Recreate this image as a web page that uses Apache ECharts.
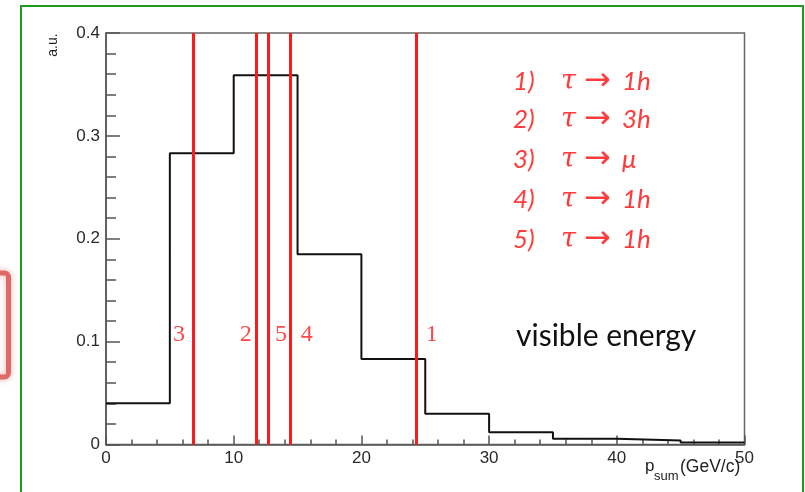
<!DOCTYPE html>
<html>
<head>
<meta charset="utf-8">
<script src="https://cdn.jsdelivr.net/npm/echarts@6/dist/echarts.min.js"></script>
<style>html,body{margin:0;padding:0;background:#fff;}#c{width:805px;height:492px;}</style>
</head>
<body>
<div id="c"></div>
<script>
// Histogram bins (GeV/c) and normalized contents (a.u.)
var binEdges = [0, 5, 10, 15, 20, 25, 30, 35, 40, 45, 50];
var binValues = [0.040, 0.283, 0.359, 0.185, 0.083, 0.030, 0.012, 0.0055, 0.004, 0.002];
// Decay-mode markers: visible energy per decay
var decayIds = ['1', '2', '3', '4', '5'];
var decayEnergy = [24.33, 11.75, 6.84, 14.46, 12.74];
var decayLabelX = [25.5, 10.95, 5.71, 15.73, 13.7];
var decayLabelY = 0.107;
// Legend text
var legendNum = ['1)', '2)', '3)', '4)', '5)'];
var legendFinal = ['1h', '3h', 'μ', '1h', '1h'];
var xTicks = [0, 10, 20, 30, 40, 50];
var yTicks = [0, 0.1, 0.2, 0.3, 0.4];

var histData = [];
for (var i = 0; i < binValues.length; i++) histData.push([binEdges[i], binValues[i]]);
histData.push([binEdges[binEdges.length - 1], binValues[binValues.length - 1]]);

var chart = echarts.init(document.getElementById('c'));
var red = '#ff1a1a';
var txtRed = '#ff3b3b';

var graphics = [
  { type: 'rect', shape: { x: 21, y: 6, width: 782, height: 520 }, style: { fill: 'none', stroke: '#1f9a1f', lineWidth: 2 }, z: 10 },
  { type: 'rect', shape: { x: -20, y: 273, width: 28.5, height: 104, r: 4 }, style: { fill: 'none', stroke: '#e06868', lineWidth: 5, shadowBlur: 6, shadowColor: 'rgba(224,104,104,0.5)' }, z: 10 },
  { type: 'text', x: 516, y: 336, style: { text: 'visible energy', font: '30px Lato', fill: '#111', textVerticalAlign: 'middle' }, z: 10 },
  { type: 'text', x: 53, y: 45, rotation: Math.PI / 2, style: { text: 'a.u.', font: '14px "Liberation Sans"', fill: '#222', textAlign: 'center', textVerticalAlign: 'middle' }, z: 10 },
  { type: 'text', x: 645, y: 466, style: { text: 'p', font: '17px "Liberation Sans"', fill: '#222', textVerticalAlign: 'middle' }, z: 10 },
  { type: 'text', x: 654, y: 476, style: { text: 'sum', font: '13px "Liberation Sans"', fill: '#222', textVerticalAlign: 'middle' }, z: 10 },
  { type: 'text', x: 680, y: 467, style: { text: '(GeV/c)', font: '17.5px "Liberation Sans"', fill: '#222', textVerticalAlign: 'middle' }, z: 10 }
];
var rowY = [82, 120, 160, 200, 240];
for (var k = 0; k < legendNum.length; k++) {
  graphics.push({ type: 'text', x: 513, y: rowY[k], style: { text: legendNum[k], font: 'italic 26px Lato', fill: txtRed, textVerticalAlign: 'middle' }, z: 10 });
  graphics.push({ type: 'text', x: 561, y: rowY[k], style: { text: 'τ', font: 'italic 27px "DejaVu Serif"', fill: txtRed, textVerticalAlign: 'middle' }, z: 10 });
  graphics.push({ type: 'text', x: 584, y: rowY[k], style: { text: '→', font: '32px "DejaVu Sans"', fill: txtRed, textVerticalAlign: 'middle' }, z: 10 });
  graphics.push({ type: 'text', x: 622, y: rowY[k], style: { text: legendFinal[k], font: 'italic 26px Lato', fill: txtRed, textVerticalAlign: 'middle' }, z: 10 });
}

var markData = decayEnergy.map(function (v) { return { xAxis: v }; });
var labelData = decayIds.map(function (id, j) { return [decayLabelX[j], decayLabelY, id]; });

chart.setOption({
  animation: false,
  backgroundColor: '#fff',
  grid: { left: 106, right: 60.5, top: 33, bottom: 47.5, show: true, borderColor: '#666', borderWidth: 1.5, backgroundColor: 'transparent' },
  xAxis: {
    type: 'value', min: 0, max: 50, interval: 10,
    axisLine: { show: true, lineStyle: { color: '#555', width: 1.5 } },
    axisTick: { show: true, inside: true, length: 9, lineStyle: { color: '#555', width: 1.5 } },
    minorTick: { show: true, splitNumber: 5, length: 5, lineStyle: { color: '#555', width: 1.5 } },
    axisLabel: { fontFamily: 'Liberation Sans', fontSize: 17, color: '#2a2a2a', margin: 5, showMaxLabel: true, showMinLabel: true,
      formatter: function (v) { return xTicks.indexOf(v) >= 0 ? String(v) : ''; } },
    splitLine: { show: false }
  },
  yAxis: {
    type: 'value', min: 0, max: 0.4, interval: 0.1,
    axisLine: { show: true, lineStyle: { color: '#555', width: 1.5 } },
    axisTick: { show: true, inside: true, length: 14, lineStyle: { color: '#555', width: 1.5 } },
    minorTick: { show: true, splitNumber: 5, length: 10, lineStyle: { color: '#555', width: 1.5 } },
    axisLabel: { fontFamily: 'Liberation Sans', fontSize: 17, color: '#2a2a2a', margin: 6, showMaxLabel: true,
      formatter: function (v) { var r = Math.round(v * 10) / 10; return yTicks.indexOf(r) >= 0 ? String(r) : ''; } },
    splitLine: { show: false }
  },
  series: [
    {
      type: 'scatter', z: 2, symbolSize: 0, data: labelData,
      label: { show: true, position: 'inside', formatter: function (p) { return p.data[2]; }, fontFamily: 'Liberation Serif', fontSize: 24, color: red },
      markLine: { silent: true, symbol: ['none', 'none'], label: { show: false }, lineStyle: { color: red, width: 3, type: 'solid' }, data: markData }
    },
    {
      type: 'line', z: 3, step: 'end', symbol: 'none', data: histData,
      lineStyle: { color: '#111', width: 2 }
    }
  ],
  graphic: graphics
});
</script>
</body>
</html>
